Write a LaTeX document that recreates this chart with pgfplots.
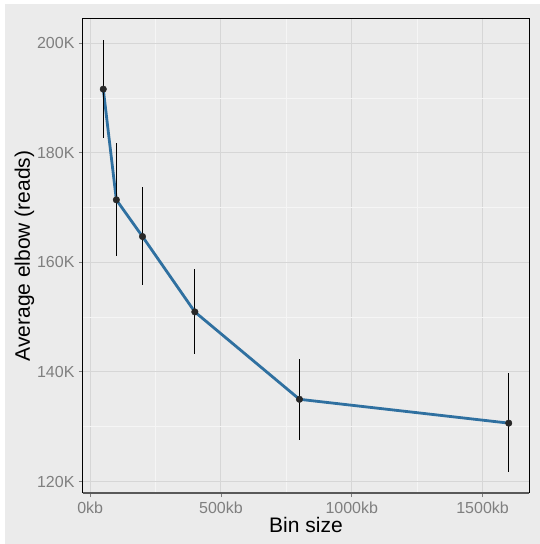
\documentclass[border=0pt]{standalone}
\usepackage{pgfplots}
\pgfplotsset{compat=1.18}
\usepackage{fontspec}
\setmainfont{Liberation Sans}
\definecolor{bggray}{RGB}{235,235,235}
\definecolor{majgrid}{RGB}{214,214,214}
\definecolor{mingrid}{RGB}{245,245,245}
\definecolor{ticktext}{RGB}{127,127,127}
\definecolor{linecol}{RGB}{47,112,160}
\definecolor{ptcol}{RGB}{40,40,40}
\begin{document}
\begin{tikzpicture}
\fill[white] (-83pt,-51pt) rectangle (456pt,493pt);
\fill[bggray] (-78pt,-70pt) rectangle (480pt,489pt);
\begin{axis}[
  at={(0pt,0pt)}, anchor=south west,
  scale only axis, width=446pt, height=474pt,
  xmin=-27.5, xmax=1677.5, ymin=117.9, ymax=204.4,
  xtick={0,500,1000,1500},
  xticklabels={0kb,500kb,1000kb,1500kb},
  ytick={120,140,160,180,200},
  yticklabels={120K,140K,160K,180K,200K},
  minor xtick={250,750,1250},
  minor ytick={130,150,170,190},
  grid=both,
  major grid style={majgrid, line width=1pt},
  minor grid style={mingrid, line width=0.6pt},
  axis line style={draw=none},
  tick style={ticktext, line width=0.8pt},
  major tick length=4pt, minor tick length=0pt,
  tick align=outside,
  xtick pos=bottom, ytick pos=left,
  ticklabel style={font=\fontsize{16}{19}\selectfont, text=ticktext},
  xticklabel style={yshift=-1pt},
  yticklabel style={xshift=-1pt},
  xlabel={Bin size}, ylabel={Average elbow (reads)},
  label style={font=\fontsize{21}{25}\selectfont, text=black},
  xlabel style={at={(axis description cs:0.5,0)}, anchor=base, yshift=-39.7pt},
  ylabel style={at={(axis description cs:0,0.5)}, anchor=base, yshift=53pt},
  clip=false,
  every axis plot/.append style={line join=round},
]
\addplot[linecol, line width=2.8pt, mark=none] coordinates {
  (50,191.6) (100,171.4) (200,164.7) (400,150.95) (800,135.0) (1600,130.65)
};
\addplot[draw=none, mark=*, mark size=3.3pt, mark options={fill=ptcol, draw=ptcol},
  error bars/.cd, y dir=both, y explicit,
  error mark=none, error bar style={black, line width=0.9pt}]
  table[x=x, y=y, y error plus=ep, y error minus=em] {
x y ep em
50 191.6 8.9 8.9
100 171.4 10.4 10.3
200 164.7 9.0 8.9
400 150.95 7.75 7.65
800 135.0 7.4 7.5
1600 130.65 9.15 8.85
};
\draw[black, line width=1pt] (rel axis cs:0,0) -- (rel axis cs:0,1) -- (rel axis cs:1,1) -- (rel axis cs:1,0);
\draw[black!65, line width=2pt] (rel axis cs:0,0) -- (rel axis cs:1,0);
\end{axis}
\pgfresetboundingbox
\useasboundingbox (-83pt,-51pt) rectangle (456pt,493pt);
\end{tikzpicture}
\end{document}
